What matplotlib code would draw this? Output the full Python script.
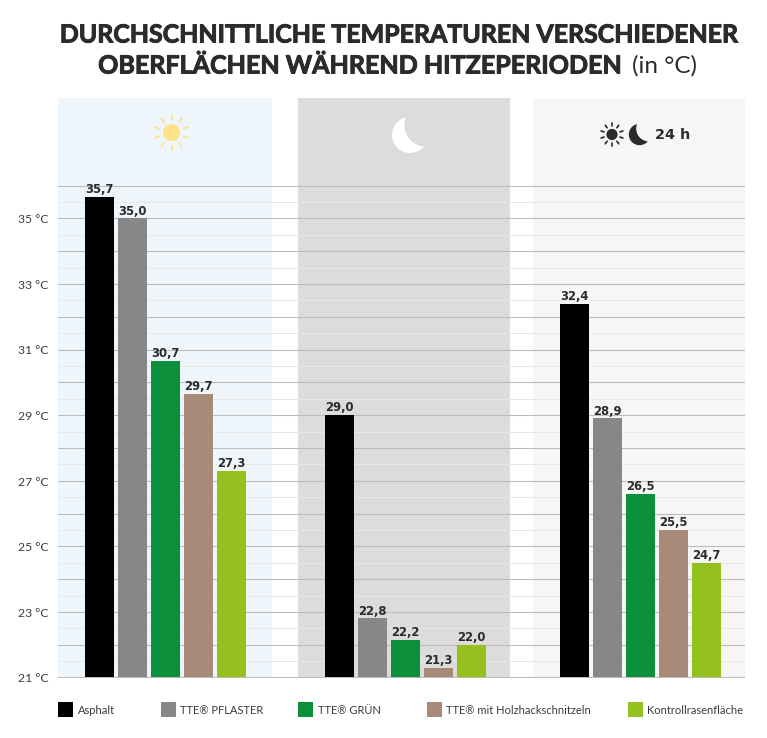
"""Average surface temperatures during heat periods, grouped bars on banded panels."""
import matplotlib
matplotlib.use("Agg")
import matplotlib.patheffects as pe
import matplotlib.pyplot as plt
import matplotlib.transforms as mtrans
import numpy as np
from matplotlib.patches import Circle, Rectangle

W, H = 767, 738

SERIES = ["Asphalt", "TTE® PFLASTER", "TTE® GRÜN", "TTE® mit Holzhackschnitzeln", "Kontrollrasenfläche"]
COLORS = ["#000000", "#878787", "#0b8f3a", "#a78a78", "#95c11f"]

# bar heights as drawn (the last 24 h bar is drawn lower than its printed label)
DAY = [35.65, 35.0, 30.65, 29.65, 27.3]
NIGHT = [29.0, 22.8, 22.15, 21.3, 22.0]
ALLDAY = [32.4, 28.9, 26.6, 25.5, 24.5]

DAY_LABELS = ["35,7", "35,0", "30,7", "29,7", "27,3"]
NIGHT_LABELS = ["29,0", "22,8", "22,2", "21,3", "22,0"]
ALLDAY_LABELS = ["32,4", "28,9", "26,5", "25,5", "24,7"]

TICKS = [21, 23, 25, 27, 29, 31, 33, 35]
TICK_LABELS = ["21 °C", "23 °C", "25 °C", "27 °C", "29 °C", "31 °C", "33 °C", "35 °C"]

# layout in pixels of the reference
AX_LEFT, AX_RIGHT = 58, 745
AX_BOTTOM, AX_TOP = 677.5, 98
PX_PER_DEG = 32.8
GROUP_START = [85, 325, 560]
BAR_W, BAR_STEP = 28.5, 33.1
PANELS = [(58, 272, "#eef6fc"), (298, 510, "#dcdcdc"), (533, 745, "#f6f6f6")]
TEXT = "#2b2b2b"
LIGHT = "#3c3c3c"
HEAVY = [pe.withStroke(linewidth=0.7, foreground=TEXT)]

fig = plt.figure(figsize=(W / 100, H / 100), dpi=100, facecolor="white")
ax = fig.add_axes([AX_LEFT / W, 1 - AX_BOTTOM / H, (AX_RIGHT - AX_LEFT) / W, (AX_BOTTOM - AX_TOP) / H])
ax.set_xlim(AX_LEFT, AX_RIGHT)
ax.set_ylim(21, 21 + (AX_BOTTOM - AX_TOP) / PX_PER_DEG)
for spine in ax.spines.values():
    spine.set_visible(False)
ax.set_xticks([])
ax.set_yticks(TICKS)
ax.set_yticklabels(TICK_LABELS, family="Lato", fontsize=8.8, color=LIGHT, va="center")
ax.tick_params(axis="y", length=0, pad=7)
# tick labels sit a little below their gridlines
nudge = mtrans.ScaledTranslation(0, -1.5 / 100, fig.dpi_scale_trans)
for tick_label in ax.get_yticklabels():
    tick_label.set_transform(tick_label.get_transform() + nudge)

for left, right, color in PANELS:
    ax.axvspan(left, right, color=color, lw=0, zorder=0)

for level in np.arange(21.5, 36, 1):
    ax.axhline(level, color="#e8e8e8", lw=0.7, zorder=1)
for level in range(21, 37):
    ax.axhline(level, color="#bcbcbc", lw=0.8, zorder=1)

for start, values, labels in zip(
    GROUP_START, [DAY, NIGHT, ALLDAY], [DAY_LABELS, NIGHT_LABELS, ALLDAY_LABELS]
):
    for i, (value, label) in enumerate(zip(values, labels)):
        x = start + i * BAR_STEP
        ax.bar(x, value - 21, width=BAR_W, bottom=21, align="edge", color=COLORS[i], zorder=3)
        ax.text(x + BAR_W / 2, value + 0.02, label, ha="center", va="bottom",
                fontsize=8.4, fontweight="bold", color=TEXT, zorder=4)

# overlay in pixel coordinates for title, icons and legend
over = fig.add_axes([0, 0, 1, 1], facecolor="none")
over.set_xlim(0, W)
over.set_ylim(H, 0)
over.axis("off")

over.text(398.5, 35, "DURCHSCHNITTLICHE TEMPERATUREN VERSCHIEDENER", ha="center", va="center",
          family="Lato", fontweight="bold", fontsize=17.95, color=TEXT, path_effects=HEAVY)
over.text(622, 66, "OBERFLÄCHEN WÄHREND HITZEPERIODEN", ha="right", va="center",
          family="Lato", fontweight="bold", fontsize=18.05, color=TEXT, path_effects=HEAVY)
over.text(632, 66, "(in °C)", ha="left", va="center", family="Lato", fontsize=17.5, color=TEXT)


def sun(cx, cy, r, r1, r2, color, lw):
    over.add_patch(Circle((cx, cy), r, color=color, lw=0))
    for a in np.deg2rad(np.arange(90, 450, 36)):
        over.plot([cx + r1 * np.cos(a), cx + r2 * np.cos(a)],
                  [cy + r1 * np.sin(a), cy + r2 * np.sin(a)],
                  color=color, lw=lw, solid_capstyle="round")


def moon(cx, cy, r, color, bg):
    over.add_patch(Circle((cx, cy), r, color=color, lw=0))
    over.add_patch(Circle((cx + 0.89 * r, cy - 0.55 * r), 1.2 * r, color=bg, lw=0))


sun(171.5, 132.5, 8.6, 12.5, 17.5, "#fde28a", 1.2)
moon(410, 135, 18, "#ffffff", "#dcdcdc")
sun(612, 134.5, 5.6, 8.3, 11.5, TEXT, 1.2)
moon(639.5, 134.5, 10.7, TEXT, "#f6f6f6")
over.text(655, 135, "24 h", ha="left", va="center", fontsize=10.4, fontweight="bold", color=TEXT)

LEGEND_X = [58, 161, 298, 427, 628]
for x, name, color in zip(LEGEND_X, SERIES, COLORS):
    over.add_patch(Rectangle((x, 702), 14.5, 15, color=color, lw=0))
    over.text(x + 19.5, 710, name, ha="left", va="center", family="Lato", fontsize=8.0, color=LIGHT)

fig.savefig("out.png", dpi=100)
